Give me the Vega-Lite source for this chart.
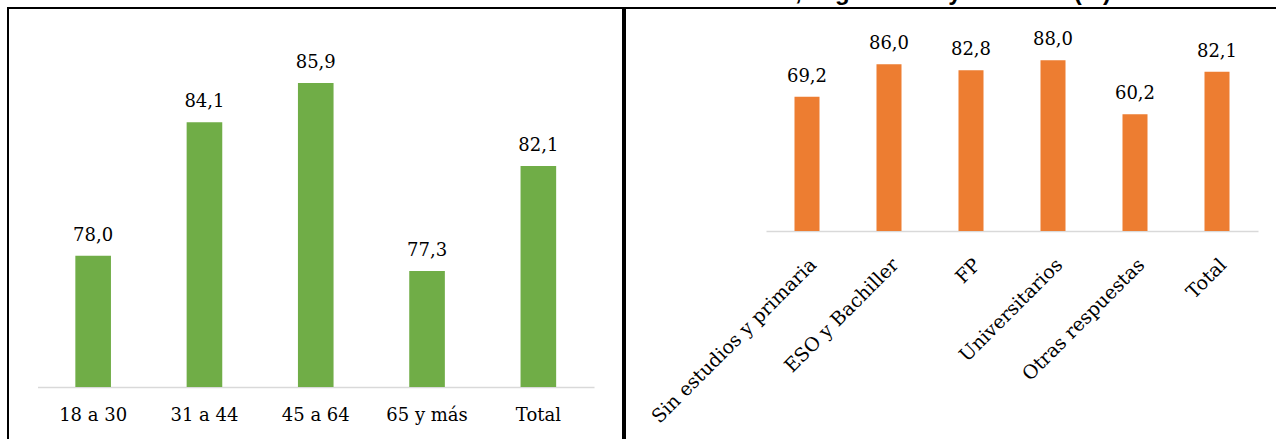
{
  "$schema": "https://vega.github.io/schema/vega-lite/v6.json",
  "padding": {"left": 7, "top": -19, "right": -15, "bottom": -7},
  "background": "white",
  "title": {
    "text": "Valoración, según edad y estudios (%)",
    "font": "Liberation Sans",
    "fontSize": 24,
    "fontWeight": "bold",
    "color": "black",
    "anchor": "end",
    "baseline": "alphabetic",
    "offset": -17,
    "dx": -180
  },
  "config": {
    "view": {"stroke": "black", "strokeWidth": 2},
    "font": "DejaVu Serif",
    "locale": {
      "number": {"decimal": ",", "thousands": ".", "grouping": [3], "currency": ["", " €"]}
    },
    "axis": {"labelFont": "DejaVu Serif", "labelFontSize": 18, "labelColor": "black", "labelLimit": 0}
  },
  "spacing": 0,
  "hconcat": [
    {
      "width": 615,
      "height": 440,
      "data": {
        "values": [
          {"edad": "18 a 30", "pct": 78.0},
          {"edad": "31 a 44", "pct": 84.1},
          {"edad": "45 a 64", "pct": 85.9},
          {"edad": "65 y más", "pct": 77.3},
          {"edad": "Total", "pct": 82.1}
        ]
      },
      "encoding": {
        "x": {
          "field": "edad",
          "type": "nominal",
          "sort": null,
          "scale": {"range": [29.5, 586], "paddingInner": 0.68, "paddingOuter": 0.34},
          "axis": {
            "title": null,
            "offset": -61,
            "domainColor": "#d9d9d9",
            "domainWidth": 1.5,
            "ticks": false,
            "tickSize": 0,
            "labelPadding": 19,
            "labelAngle": 0
          }
        },
        "y": {
          "field": "pct",
          "type": "quantitative",
          "scale": {"domain": [72, 88], "range": [379, 29], "nice": false, "zero": false},
          "axis": null
        }
      },
      "layer": [
        {"mark": {"type": "bar", "color": "#70AD47"}, "encoding": {"y2": {"datum": 72}}},
        {
          "mark": {"type": "text", "baseline": "bottom", "dy": -11, "fontSize": 18, "color": "black"},
          "encoding": {"text": {"field": "pct", "type": "quantitative", "format": ".1f"}}
        }
      ]
    },
    {
      "width": 665,
      "height": 440,
      "data": {
        "values": [
          {"estudios": "Sin estudios y primaria", "pct": 69.2},
          {"estudios": "ESO y Bachiller", "pct": 86.0},
          {"estudios": "FP", "pct": 82.8},
          {"estudios": "Universitarios", "pct": 88.0},
          {"estudios": "Otras respuestas", "pct": 60.2},
          {"estudios": "Total", "pct": 82.1}
        ]
      },
      "encoding": {
        "x": {
          "field": "estudios",
          "type": "nominal",
          "sort": null,
          "scale": {"range": [141, 633], "paddingInner": 0.695, "paddingOuter": 0.3475},
          "axis": {
            "title": null,
            "offset": -217,
            "domainColor": "#d9d9d9",
            "domainWidth": 1.5,
            "ticks": false,
            "tickSize": 0,
            "labelPadding": 24,
            "labelFontSize": 19,
            "labelAngle": -45
          }
        },
        "y": {
          "field": "pct",
          "type": "quantitative",
          "scale": {"domain": [0, 100], "range": [223, 29], "nice": false},
          "axis": null
        }
      },
      "layer": [
        {"mark": {"type": "bar", "color": "#ED7D31"}, "encoding": {"y2": {"datum": 0}}},
        {
          "mark": {"type": "text", "baseline": "bottom", "dy": -11, "fontSize": 18, "color": "black"},
          "encoding": {"text": {"field": "pct", "type": "quantitative", "format": ".1f"}}
        }
      ]
    }
  ]
}
